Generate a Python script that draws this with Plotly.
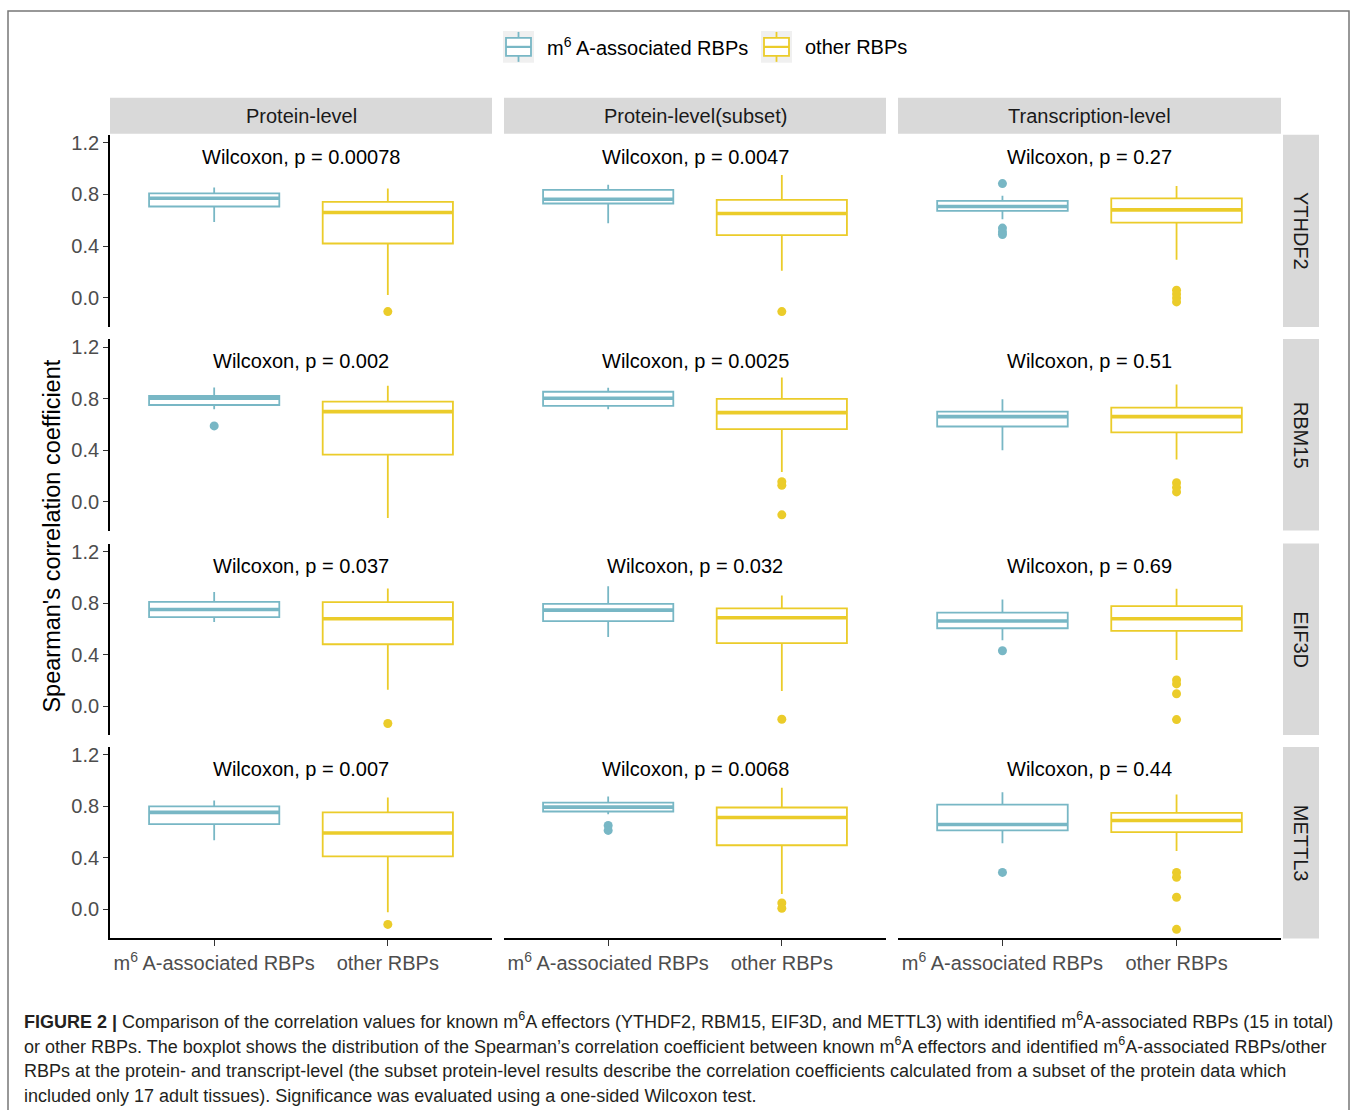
import plotly.graph_objects as go

# ---- data -------------------------------------------------------------
facet_cols = ["Protein-level", "Protein-level(subset)", "Transcription-level"]
facet_rows = ["YTHDF2", "RBM15", "EIF3D", "METTL3"]
groups = ["m<sup>6</sup> A-associated RBPs", "other RBPs"]
group_colors = ["#78B7C5", "#EBCC2A"]

p_labels = [
    ["Wilcoxon, p = 0.00078", "Wilcoxon, p = 0.0047", "Wilcoxon, p = 0.27"],
    ["Wilcoxon, p = 0.002", "Wilcoxon, p = 0.0025", "Wilcoxon, p = 0.51"],
    ["Wilcoxon, p = 0.037", "Wilcoxon, p = 0.032", "Wilcoxon, p = 0.69"],
    ["Wilcoxon, p = 0.007", "Wilcoxon, p = 0.0068", "Wilcoxon, p = 0.44"],
]

# m6A-associated RBPs: box statistics per (effector, data level)
m6a_lo = [[0.588, 0.578, 0.609], [0.717, 0.717, 0.398], [0.653, 0.537, 0.511], [0.537, 0.740, 0.514]]
m6a_q1 = [[0.707, 0.730, 0.673], [0.750, 0.743, 0.583], [0.691, 0.660, 0.604], [0.663, 0.761, 0.614]]
m6a_med = [[0.771, 0.763, 0.707], [0.802, 0.802, 0.660], [0.750, 0.745, 0.660], [0.754, 0.795, 0.660]]
m6a_q3 = [[0.809, 0.835, 0.751], [0.820, 0.853, 0.699], [0.809, 0.794, 0.725], [0.800, 0.830, 0.814]]
m6a_hi = [[0.853, 0.874, 0.789], [0.886, 0.884, 0.794], [0.886, 0.930, 0.828], [0.846, 0.877, 0.910]]
m6a_out = [
    [[], [], [0.884, 0.540, 0.510, 0.490]],
    [[0.588], [], []],
    [[], [], [0.429]],
    [[], [0.653, 0.614], [0.288]],
]

# other RBPs
oth_lo = [[0.023, 0.211, 0.296], [-0.128, 0.229, 0.326], [0.126, 0.116, 0.357], [-0.021, 0.120, 0.455]]
oth_q1 = [[0.421, 0.486, 0.583], [0.365, 0.563, 0.537], [0.480, 0.488, 0.583], [0.413, 0.499, 0.601]]
oth_med = [[0.660, 0.653, 0.681], [0.699, 0.691, 0.660], [0.678, 0.686, 0.678], [0.594, 0.714, 0.691]]
oth_q3 = [[0.743, 0.758, 0.769], [0.776, 0.797, 0.730], [0.807, 0.758, 0.776], [0.754, 0.792, 0.751]]
oth_hi = [[0.845, 0.951, 0.866], [0.899, 0.964, 0.910], [0.912, 0.858, 0.910], [0.870, 0.946, 0.892]]
oth_out = [
    [[-0.105], [-0.105], [0.060, 0.030, 0.000, -0.030]],
    [[], [0.154, 0.126, -0.103], [0.146, 0.110, 0.075]],
    [[-0.136], [-0.103], [0.203, 0.172, 0.095, -0.105]],
    [[-0.116], [0.050, 0.010], [0.288, 0.250, 0.095, -0.154]],
]

y_ticks = [0.0, 0.4, 0.8, 1.2]

# ---- layout geometry (pixels) ----------------------------------------
W, H = 1357, 1110
col_px = [(110, 492), (504, 886), (898, 1281)]
row_px = [(132, 325), (337, 529), (542, 734), (746, 938)]
strip_top = (95, 131)
strip_right = (1283, 1319)
Y_RANGE = [-0.225, 1.262]
X_RANGE = [0.4, 2.6]
BOX_W = 0.75


def fx(p):
    return p / W


def fy(p):
    return 1 - p / H


stats = [
    (m6a_lo, m6a_q1, m6a_med, m6a_q3, m6a_hi, m6a_out),
    (oth_lo, oth_q1, oth_med, oth_q3, oth_hi, oth_out),
]

fig = go.Figure()
layout_axes = {}
annotations = []
shapes = []

TXT = "Liberation Sans, Arial, sans-serif"

for r in range(4):
    for c in range(3):
        k = r * 3 + c + 1
        xa = "x" if k == 1 else f"x{k}"
        ya = "y" if k == 1 else f"y{k}"
        for g, (lo, q1, med, q3, hi, out) in enumerate(stats):
            pos = g + 1
            col = group_colors[g]
            fig.add_trace(go.Box(
                x=[pos], q1=[q1[r][c]], median=[med[r][c]], q3=[q3[r][c]],
                lowerfence=[lo[r][c]], upperfence=[hi[r][c]],
                width=BOX_W, whiskerwidth=0, fillcolor="white",
                line=dict(color=col, width=1.8), boxpoints=False,
                name=groups[g], showlegend=False, xaxis=xa, yaxis=ya,
            ))
            # thicker median bar, as in ggplot boxplots
            fig.add_trace(go.Scatter(
                x=[pos - BOX_W / 2, pos + BOX_W / 2], y=[med[r][c], med[r][c]],
                mode="lines", line=dict(color=col, width=3.6),
                showlegend=False, hoverinfo="skip", xaxis=xa, yaxis=ya,
            ))
            if out[r][c]:
                fig.add_trace(go.Scatter(
                    x=[pos] * len(out[r][c]), y=out[r][c], mode="markers",
                    marker=dict(color=col, size=9),
                    showlegend=False, xaxis=xa, yaxis=ya,
                ))
        # p-value label
        annotations.append(dict(
            x=1.5, y=1.09, xref=xa, yref=ya, text=p_labels[r][c],
            xanchor="center", yanchor="middle",
            showarrow=False, font=dict(family=TXT, size=20, color="#000000"),
        ))

        x0, x1 = col_px[c]
        y0, y1 = row_px[r]
        xkey = "xaxis" if k == 1 else f"xaxis{k}"
        ykey = "yaxis" if k == 1 else f"yaxis{k}"
        bottom = r == 3
        left = c == 0
        layout_axes[xkey] = dict(
            domain=[fx(x0), fx(x1)], range=X_RANGE, anchor=ya,
            showgrid=False, zeroline=False,
            showline=bottom, linecolor="#000000", linewidth=1.8,
            ticks="outside" if bottom else "", ticklen=6, tickwidth=1.4,
            tickcolor="#333333",
            tickvals=[1, 2], ticktext=groups, showticklabels=bottom,
            tickfont=dict(family=TXT, size=20, color="#4D4D4D"),
        )
        layout_axes[ykey] = dict(
            domain=[fy(y1), fy(y0)], range=Y_RANGE, anchor=xa,
            showgrid=False, zeroline=False,
            showline=left, linecolor="#000000", linewidth=1.8,
            ticks="outside" if left else "", ticklen=5, tickwidth=1.4,
            tickcolor="#333333",
            tickvals=y_ticks, ticktext=[f"{v:.1f}" for v in y_ticks],
            showticklabels=left,
            tickfont=dict(family=TXT, size=20, color="#4D4D4D"),
        )

# facet strips on top
for c, name in enumerate(facet_cols):
    x0, x1 = col_px[c]
    shapes.append(dict(type="rect", xref="paper", yref="paper",
                       x0=fx(x0), x1=fx(x1), y0=fy(strip_top[1]), y1=fy(strip_top[0]),
                       fillcolor="#D9D9D9", line=dict(width=0), layer="below"))
    annotations.append(dict(x=fx((x0 + x1) / 2), y=fy((strip_top[0] + strip_top[1]) / 2),
                            xref="paper", yref="paper", text=name, showarrow=False,
                            xanchor="center", yanchor="middle",
                            font=dict(family=TXT, size=20, color="#1A1A1A")))

# facet strips on the right
for r, name in enumerate(facet_rows):
    y0, y1 = row_px[r]
    shapes.append(dict(type="rect", xref="paper", yref="paper",
                       x0=fx(strip_right[0]), x1=fx(strip_right[1]), y0=fy(y1), y1=fy(y0),
                       fillcolor="#D9D9D9", line=dict(width=0), layer="below"))
    annotations.append(dict(x=fx((strip_right[0] + strip_right[1]) / 2), y=fy((y0 + y1) / 2),
                            xref="paper", yref="paper", text=name, showarrow=False,
                            xanchor="center", yanchor="middle",
                            textangle=90, font=dict(family=TXT, size=20, color="#1A1A1A")))

# y-axis title
annotations.append(dict(x=fx(52), y=fy((row_px[0][0] + row_px[3][1]) / 2),
                        xref="paper", yref="paper", text="Spearman's correlation coefficient",
                        xanchor="center", yanchor="middle",
                        showarrow=False, textangle=-90,
                        font=dict(family=TXT, size=23.5, color="#000000")))

# legend drawn as ggplot-style keys
legend_keys = [(503, 545), (761, 803)]
for g, (kx, tx) in enumerate(legend_keys):
    col = group_colors[g]
    shapes.append(dict(type="rect", xref="paper", yref="paper",
                       x0=fx(kx), x1=fx(kx + 31), y0=fy(60), y1=fy(28),
                       fillcolor="#F0F0F0", line=dict(width=0)))
    shapes.append(dict(type="rect", xref="paper", yref="paper",
                       x0=fx(kx + 3), x1=fx(kx + 28), y0=fy(53), y1=fy(35),
                       fillcolor="white", line=dict(color=col, width=1.8)))
    shapes.append(dict(type="line", xref="paper", yref="paper",
                       x0=fx(kx + 3), x1=fx(kx + 28), y0=fy(44), y1=fy(44),
                       line=dict(color=col, width=2.2)))
    for ya0, ya1 in [(29, 35), (53, 59)]:
        shapes.append(dict(type="line", xref="paper", yref="paper",
                           x0=fx(kx + 15.5), x1=fx(kx + 15.5), y0=fy(ya0), y1=fy(ya1),
                           line=dict(color=col, width=1.8)))
    annotations.append(dict(x=fx(tx), y=fy(44), xref="paper", yref="paper",
                            xanchor="left", yanchor="middle", text=groups[g], showarrow=False,
                            font=dict(family=TXT, size=20, color="#000000")))

# figure caption
caption_lines = [
    "<b>FIGURE 2 |</b> Comparison of the correlation values for known m<sup>6</sup>A effectors (YTHDF2, RBM15, EIF3D, and METTL3) with identified m<sup>6</sup>A-associated RBPs (15 in total)",
    "or other RBPs. The boxplot shows the distribution of the Spearman’s correlation coefficient between known m<sup>6</sup>A effectors and identified m<sup>6</sup>A-associated RBPs/other",
    "RBPs at the protein- and transcript-level (the subset protein-level results describe the correlation coefficients calculated from a subset of the protein data which",
    "included only 17 adult tissues). Significance was evaluated using a one-sided Wilcoxon test.",
]
caption_y = [1020, 1045, 1071, 1096]
for line, cy in zip(caption_lines, caption_y):
    annotations.append(dict(x=fx(22), y=fy(cy), xref="paper", yref="paper",
                            xanchor="left", yanchor="middle", text=line, showarrow=False,
                            font=dict(family=TXT, size=18, color="#231F20")))

# outer frame
shapes.append(dict(type="rect", xref="paper", yref="paper",
                   x0=fx(8), x1=fx(1349), y0=fy(1115), y1=fy(8),
                   line=dict(color="#777777", width=1.5), fillcolor="rgba(0,0,0,0)"))

fig.update_layout(
    width=W, height=H, margin=dict(l=0, r=0, t=0, b=0),
    paper_bgcolor="white", plot_bgcolor="white",
    showlegend=False, annotations=annotations, shapes=shapes,
    **layout_axes,
)

fig.write_html("out.html")
